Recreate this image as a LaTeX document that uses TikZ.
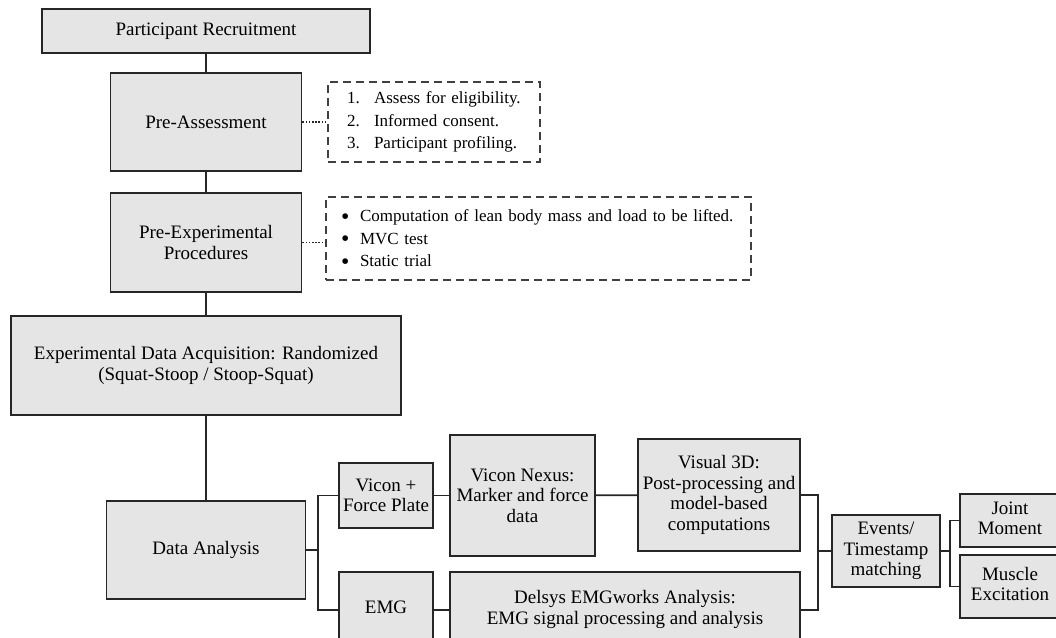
\documentclass[tikz,border=0pt]{standalone}
\usepackage{fontspec}
\setmainfont{Liberation Serif}
\newcommand{\lines}[1]{\begin{tabular}{@{}c@{}}#1\end{tabular}}
\newcommand{\bul}{\makebox[19pt][l]{\smash{\raisebox{-2.2pt}{\scalebox{1.4}{\textbullet}}}}}
\begin{document}
\begin{tikzpicture}[x=1pt,y=-1pt,
        box/.style={draw=black!85,fill=black!10,line width=1.7pt,align=center,inner sep=2pt,font=\fontsize{19}{20.5}\selectfont},
        note/.style={draw=black!75,line width=1.4pt,dash pattern=on 8pt off 5pt,align=left,inner ysep=0pt,font=\fontsize{17}{22.5}\selectfont},
        link/.style={draw=black!85,line width=1.7pt},
        dotlink/.style={draw=black!85,line width=1.8pt,dash pattern=on 1.6pt off 1.6pt}]
        \useasboundingbox (0,0) rectangle (1056,637);
        \clip (0,0) rectangle (1056,637);

        \node[box,minimum width=328pt,minimum height=44pt] (recruit) at (206,31) {Participant Recruitment};
        \node[box,minimum width=191pt,minimum height=98pt] (preassess) at (206,122) {Pre-Assessment};
        \node[box,minimum width=191pt,minimum height=99pt] (preexp) at (206,242.5) {Pre-Experimental\\Procedures};
        \node[box,minimum width=390pt,minimum height=99pt] (acquire) at (206,365.5) {Experimental Data Acquisition: Randomized\\(Squat-Stoop / Stoop-Squat)};
        \node[box,minimum width=199pt,minimum height=98pt] (analysis) at (206,550) {Data Analysis};

        \node[note,minimum width=212pt,minimum height=80pt,inner xsep=19pt,text width=174pt] (checks) at (434,122)
            {\makebox[27pt][l]{1.}Assess for eligibility.\\\makebox[27pt][l]{2.}Informed consent.\\\makebox[27pt][l]{3.}Participant profiling.};
        \node[note,minimum width=425pt,minimum height=83pt,inner xsep=15pt,text width=395pt] (procs) at (538.5,238.5)
            {\bul Computation of lean body mass and load to be lifted.\\\bul MVC test\\\bul Static trial};

        \node[box,minimum width=94pt,minimum height=65pt] (vicon) at (386,495.5) {Vicon +\\Force Plate};
        \node[box,minimum width=94pt,minimum height=76pt] (emg) at (386,610) {\raisebox{5pt}{EMG}};
        \node[box,minimum width=145pt,minimum height=121pt] (nexus) at (522.5,495.5) {Vicon Nexus:\\Marker and force\\data};
        \node[box,minimum width=162pt,minimum height=112pt] (visual) at (719,495) {Visual 3D:\\Post-processing and\\model-based\\computations};
        \node[box,minimum width=350pt,minimum height=76pt] (delsys) at (625,610) {\raisebox{5pt}{\lines{Delsys EMGworks Analysis:\\EMG signal processing and analysis}}};
        \node[box,minimum width=108pt,minimum height=72pt] (events) at (886,551) {Events/\\Timestamp\\matching};
        \node[box,minimum width=112pt,minimum height=53pt] (moment) at (1016,520.5) {\lines{Joint\\Moment}\hspace*{12pt}};
        \node[box,minimum width=112pt,minimum height=63pt] (excite) at (1016,586.5) {\lines{Muscle\\Excitation}\hspace*{12pt}};

        \coordinate (split) at (318,550);
        \coordinate (merge) at (818,551);
        \coordinate (fork) at (950,551);

        \draw[link] (recruit) -- (preassess);
        \draw[link] (preassess) -- (preexp);
        \draw[link] (preexp) -- (acquire);
        \draw[link] (acquire) -- (analysis);
        \draw[dotlink] (preassess.east) -- (checks.west);
        \draw[dotlink] (preexp.east) -- (preexp.east -| procs.west);

        \draw[link] (analysis.east) -- (split);
        \draw[link] (vicon.west) -| (split) |- (emg.west);
        \draw[link] (vicon) -- (nexus);
        \draw[link] (nexus) -- (visual);
        \draw[link] (emg) -- (delsys);
        \draw[link] (visual.east) -| (merge) |- (delsys.east);
        \draw[link] (merge) -- (events.west);
        \draw[link] (events.east) -- (fork);
        \draw[link] (moment.west) -| (fork) |- (excite.west);
    \end{tikzpicture}
\end{document}
